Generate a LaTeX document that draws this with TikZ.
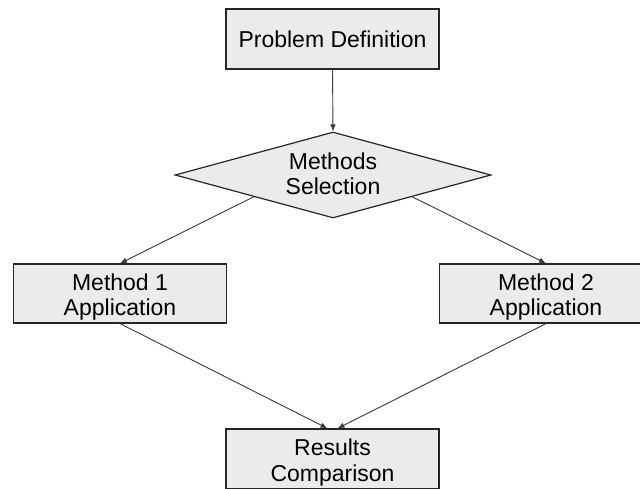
\documentclass[tikz,border=0pt]{standalone}
\usepackage{fontspec}
\setmainfont{Liberation Sans}
\usetikzlibrary{shapes.geometric,arrows.meta}
\definecolor{boxfill}{HTML}{EBEBEB}
\definecolor{edgecol}{HTML}{262626}
\definecolor{linecol}{HTML}{3A3A3A}
\newcommand{\twolines}[3]{\raisebox{#1}[\height][\depth]{\begin{tabular}{@{}c@{}}#2\\#3\end{tabular}}}
\begin{document}
\begin{tikzpicture}[x=1pt,y=-1pt,
  box/.style={draw=edgecol,line width=1.2pt,fill=boxfill,minimum width=213pt,minimum height=60pt,inner sep=0pt,align=center,font=\fontsize{23}{25.5}\selectfont},
  decision/.style={diamond,draw=edgecol,line width=1.2pt,fill=boxfill,minimum width=316pt,minimum height=86pt,aspect=3.67,inner sep=0pt,align=center,font=\fontsize{23}{25.5}\selectfont},
  conn/.style={draw=linecol,line width=0.9pt,-{Latex[length=7pt,width=5.5pt]}}]
\useasboundingbox (0,0) rectangle (640,488);
\clip (0,0) rectangle (640,488);
\fill[white] (0,0) rectangle (640,488);
\node[box] (pd) at (332.5,39) {Problem Definition};
\node[decision] (ms) at (333,175) {\twolines{-2pt}{Methods}{Selection}};
\node[box,minimum height=59pt] (m1) at (120,293.5) {\twolines{-4.5pt}{Method 1}{Application}};
\node[box,minimum height=59pt] (m2) at (546,293.5) {\twolines{-4.5pt}{Method 2}{Application}};
\node[box] (rc) at (332.5,459) {\twolines{-4.5pt}{Results}{Comparison}};
\draw[conn] (pd.south) -- (ms.north);
\draw[conn] (ms.south west) -- (m1.north);
\draw[conn] (ms.south east) -- (m2.north);
\draw[conn] (m1.south) -- ([xshift=-5pt]rc.north);
\draw[conn] (m2.south) -- ([xshift=5pt]rc.north);
\end{tikzpicture}
\end{document}
